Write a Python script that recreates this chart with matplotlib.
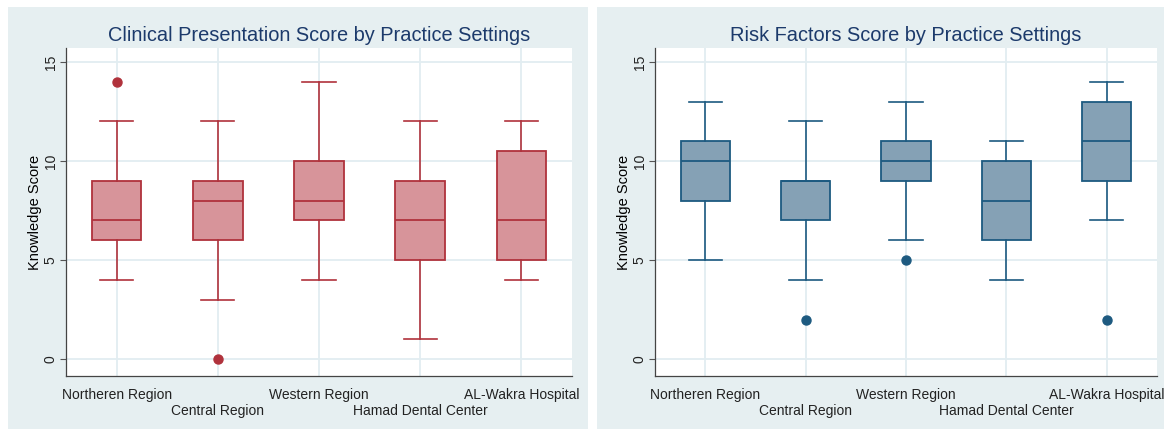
import matplotlib.pyplot as plt
from matplotlib.patches import Rectangle

plt.rcParams['font.family'] = ['Liberation Sans', 'DejaVu Sans']

# ── DATA ──────────────────────────────────────────────────────────────────────
settings = ['Northeren Region', 'Central Region', 'Western Region',
            'Hamad Dental Center', 'AL-Wakra Hospital']

# Clinical presentation score: whisker low, Q1, median, Q3, whisker high, outliers
clin_lo   = [4, 3, 4, 1, 4]
clin_q1   = [6, 6, 7, 5, 5]
clin_med  = [7, 8, 8, 7, 7]
clin_q3   = [9, 9, 10, 9, 10.5]
clin_hi   = [12, 12, 14, 12, 12]
clin_out  = [[14], [0], [], [], []]

# Risk factors score
risk_lo   = [5, 4, 6, 4, 7]
risk_q1   = [8, 7, 9, 6, 9]
risk_med  = [10, 9, 10, 8, 11]
risk_q3   = [11, 9, 11, 10, 13]
risk_hi   = [13, 12, 13, 11, 14]
risk_out  = [[], [2], [5], [], [2]]

y_ticks = [0, 5, 10, 15]

# ── STYLE ─────────────────────────────────────────────────────────────────────
PANEL_BG = '#e6eff1'
GRID_CLR = '#e2edf1'
TITLE_CLR = '#1c3a6b'


def make_stats(lo, q1, med, q3, hi, out):
    return [dict(whislo=a, q1=b, med=c, q3=d, whishi=e, fliers=f)
            for a, b, c, d, e, f in zip(lo, q1, med, q3, hi, out)]


def draw_panel(ax, stats, fill, edge, title):
    ax.bxp(stats, positions=range(1, len(stats) + 1), widths=0.49,
           patch_artist=True, showfliers=True,
           boxprops=dict(facecolor=fill, edgecolor=edge, linewidth=1.3),
           medianprops=dict(color=edge, linewidth=1.3),
           whiskerprops=dict(color=edge, linewidth=1.2),
           capprops=dict(color=edge, linewidth=1.2), capwidths=0.33,
           flierprops=dict(marker='o', markerfacecolor=edge, markeredgecolor=edge,
                           markersize=6.5))
    ax.set_facecolor('white')
    ax.set_xlim(0.5, 5.5)
    ax.set_ylim(-0.85, 15.7)
    ax.set_yticks(y_ticks)
    ax.set_yticklabels([str(t) for t in y_ticks], rotation=90, va='center',
                       fontsize=10, color='#222222')
    ax.set_xticks(range(1, 6))
    ax.set_xticklabels([])
    # staggered category labels, as in the original
    for i, name in enumerate(settings):
        ax.annotate(name, xy=(i + 1, 0), xycoords=('data', 'axes fraction'),
                    xytext=(0, -9 if i % 2 == 0 else -20.5), textcoords='offset points',
                    ha='center', va='top', fontsize=10, color='#222222')
    ax.tick_params(axis='x', length=0)
    ax.tick_params(axis='y', length=4, width=0.8, color='#555555', pad=2)
    ax.grid(True, color=GRID_CLR, linewidth=1.3)
    ax.set_axisbelow(True)
    for s in ['top', 'right']:
        ax.spines[s].set_visible(False)
    for s in ['left', 'bottom']:
        ax.spines[s].set_color('#444444')
        ax.spines[s].set_linewidth(0.9)
    ax.set_ylabel('Knowledge Score', fontsize=10.5, labelpad=1)
    ax.set_title(title, fontsize=14.4, color=TITLE_CLR, pad=5)


fig = plt.figure(figsize=(11.64, 4.32), dpi=100)
fig.add_artist(Rectangle((8 / 1164, 3 / 432), 580 / 1164, 422 / 432,
                         transform=fig.transFigure, facecolor=PANEL_BG,
                         edgecolor='none', zorder=-1))
fig.add_artist(Rectangle((597 / 1164, 3 / 432), 567 / 1164, 422 / 432,
                         transform=fig.transFigure, facecolor=PANEL_BG,
                         edgecolor='none', zorder=-1))

ax1 = fig.add_axes([66 / 1164, 56 / 432, 506 / 1164, 328 / 432])
ax2 = fig.add_axes([655 / 1164, 56 / 432, 502 / 1164, 328 / 432])

draw_panel(ax1, make_stats(clin_lo, clin_q1, clin_med, clin_q3, clin_hi, clin_out),
           '#d7949a', '#b0323c', 'Clinical Presentation Score by Practice Settings')
draw_panel(ax2, make_stats(risk_lo, risk_q1, risk_med, risk_q3, risk_hi, risk_out),
           '#85a1b5', '#1d5a80', 'Risk Factors Score by Practice Settings')

plt.savefig('out.png', dpi=100)
